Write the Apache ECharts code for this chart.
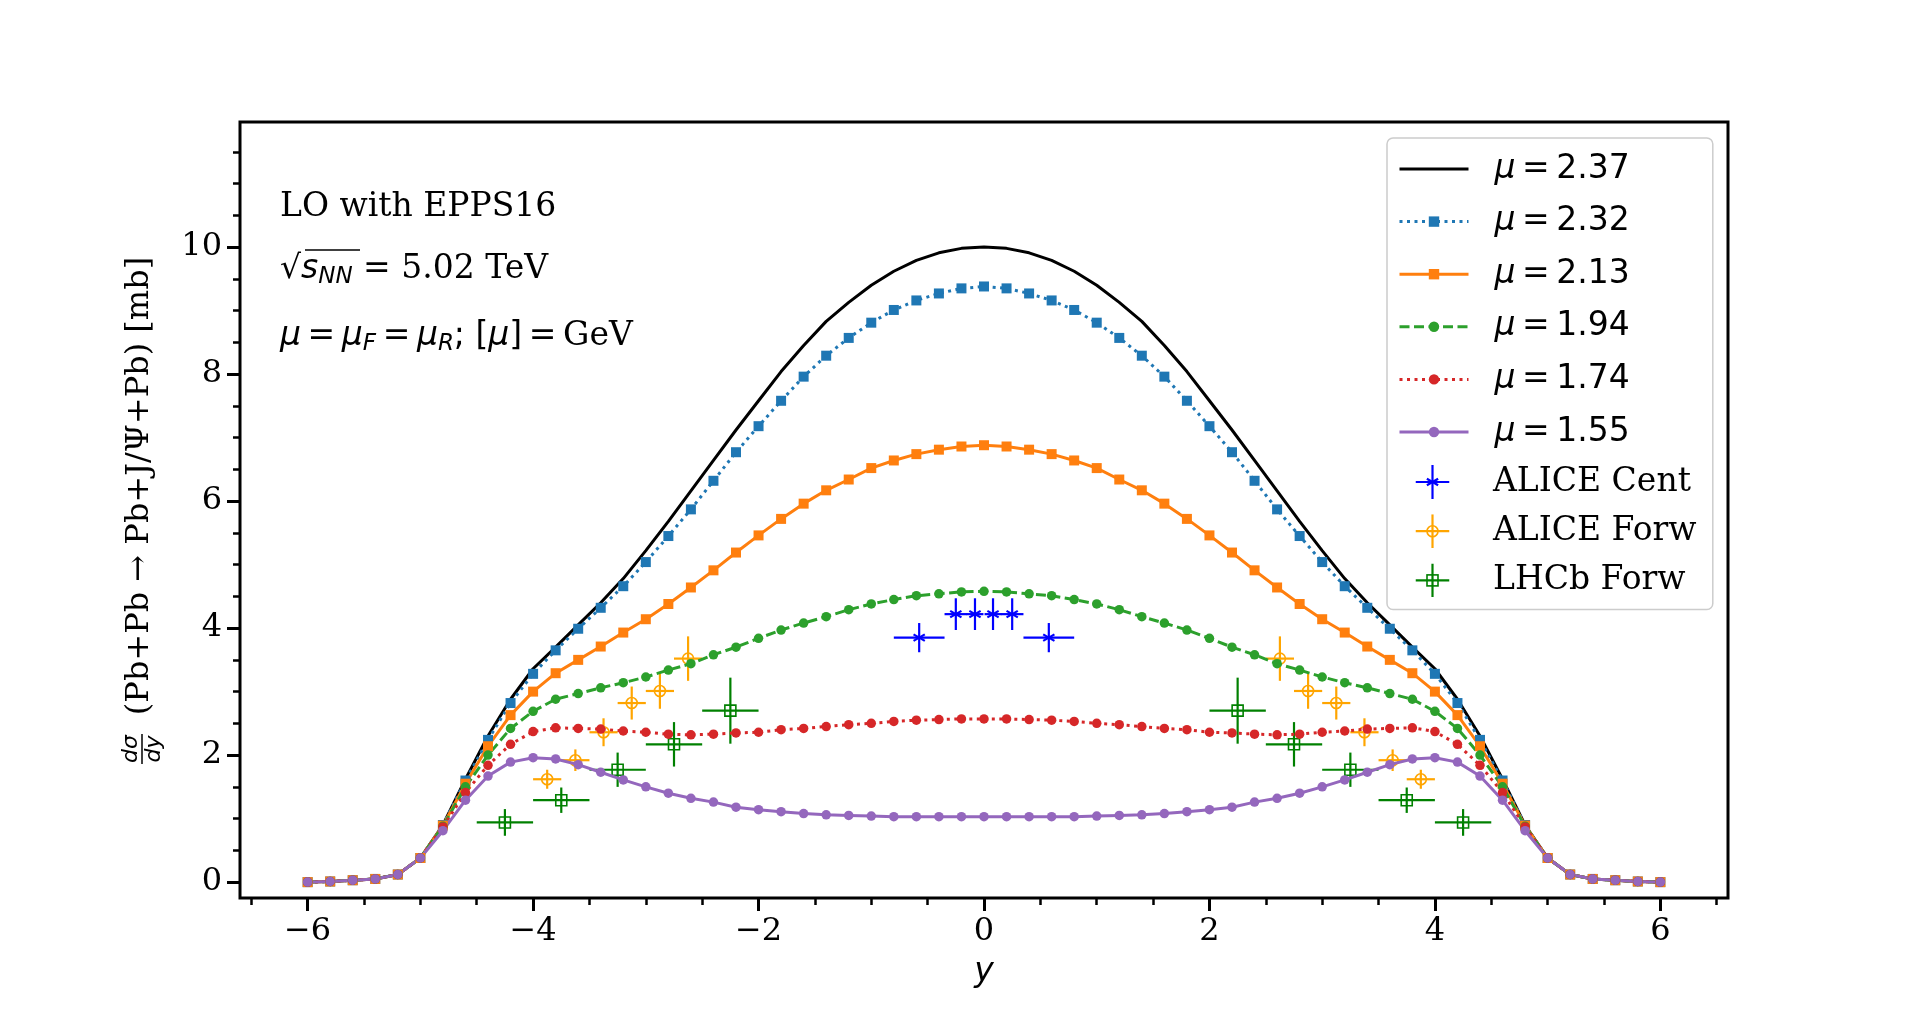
<!DOCTYPE html>
<html><head><meta charset="utf-8">
<script src="https://cdn.jsdelivr.net/npm/echarts@6/dist/echarts.min.js"></script>
<style>html,body{margin:0;padding:0;background:#fff}#c{width:1920px;height:1010px}</style>
</head><body><div id="c"></div>
<script>
// ---------- data ----------
const rapidity = [-6.0,-5.8,-5.6,-5.4,-5.2,-5.0,-4.8,-4.6,-4.4,-4.2,-4.0,-3.8,-3.6,-3.4,-3.2,-3.0,-2.8,-2.6,-2.4,-2.2,-2.0,-1.8,-1.6,-1.4,-1.2,-1.0,-0.8,-0.6,-0.4,-0.2,0.0,
  0.2,0.4,0.6,0.8,1.0,1.2,1.4,1.6,1.8,2.0,2.2,2.4,2.6,2.8,3.0,3.2,3.4,3.6,3.8,4.0,4.2,4.4,4.6,4.8,5.0,5.2,5.4,5.6,5.8,6.0];

const mu237 = [0.00,0.01,0.03,0.05,0.12,0.38,0.90,1.62,2.30,2.88,3.36,3.70,4.05,4.40,4.78,5.22,5.68,6.16,6.64,7.12,7.58,8.04,8.45,8.83,9.13,9.40,9.62,9.79,9.91,9.98,10.00,
  9.98,9.91,9.79,9.62,9.40,9.13,8.83,8.45,8.04,7.58,7.12,6.64,6.16,5.68,5.22,4.78,4.40,4.05,3.70,3.36,2.88,2.30,1.62,0.90,0.38,0.12,0.05,0.03,0.01,0.00];
const mu232 = [0.00,0.01,0.03,0.05,0.12,0.38,0.90,1.60,2.24,2.82,3.28,3.65,3.99,4.32,4.66,5.04,5.45,5.87,6.32,6.77,7.18,7.58,7.96,8.29,8.57,8.81,9.01,9.16,9.27,9.35,9.38,
  9.35,9.27,9.16,9.01,8.81,8.57,8.29,7.96,7.58,7.18,6.77,6.32,5.87,5.45,5.04,4.66,4.32,3.99,3.65,3.28,2.82,2.24,1.60,0.90,0.38,0.12,0.05,0.03,0.01,0.00];
const mu213 = [0.00,0.01,0.03,0.05,0.12,0.38,0.89,1.55,2.14,2.63,3.00,3.29,3.50,3.71,3.93,4.14,4.38,4.64,4.91,5.19,5.46,5.72,5.96,6.17,6.34,6.52,6.64,6.74,6.81,6.86,6.88,
  6.86,6.81,6.74,6.64,6.52,6.34,6.17,5.96,5.72,5.46,5.19,4.91,4.64,4.38,4.14,3.93,3.71,3.50,3.29,3.00,2.63,2.14,1.55,0.89,0.38,0.12,0.05,0.03,0.01,0.00];
const mu194 = [0.00,0.01,0.03,0.05,0.12,0.38,0.88,1.50,2.00,2.42,2.69,2.88,2.97,3.06,3.14,3.23,3.34,3.44,3.58,3.70,3.84,3.97,4.08,4.18,4.29,4.38,4.45,4.51,4.54,4.57,4.58,
  4.57,4.54,4.51,4.45,4.38,4.29,4.18,4.08,3.97,3.84,3.70,3.58,3.44,3.34,3.23,3.14,3.06,2.97,2.88,2.69,2.42,2.00,1.50,0.88,0.38,0.12,0.05,0.03,0.01,0.00];
const mu174 = [0.00,0.01,0.03,0.05,0.12,0.38,0.87,1.41,1.84,2.17,2.37,2.43,2.42,2.41,2.38,2.36,2.33,2.32,2.33,2.35,2.36,2.40,2.42,2.45,2.48,2.50,2.53,2.55,2.56,2.57,2.57,
  2.57,2.56,2.55,2.53,2.50,2.48,2.45,2.42,2.40,2.36,2.35,2.33,2.32,2.33,2.36,2.38,2.41,2.42,2.43,2.37,2.17,1.84,1.41,0.87,0.38,0.12,0.05,0.03,0.01,0.00];
const mu155 = [0.00,0.01,0.03,0.05,0.12,0.38,0.81,1.29,1.67,1.89,1.96,1.94,1.85,1.73,1.61,1.50,1.40,1.32,1.26,1.18,1.14,1.11,1.08,1.06,1.05,1.04,1.03,1.03,1.03,1.03,1.03,
  1.03,1.03,1.03,1.03,1.04,1.05,1.06,1.08,1.11,1.14,1.18,1.26,1.32,1.40,1.50,1.61,1.73,1.85,1.94,1.96,1.89,1.67,1.29,0.81,0.38,0.12,0.05,0.03,0.01,0.00];

const aliceCentY    = [-0.575,-0.25,-0.08,0.08,0.25,0.575];
const aliceCentVal  = [3.85,4.22,4.22,4.22,4.22,3.85];
const aliceCentYErr = [0.225,0.10,0.075,0.075,0.10,0.225];
const aliceCentErr  = [0.23,0.25,0.25,0.25,0.25,0.23];

const aliceForwY    = [-3.875,-3.625,-3.375,-3.125,-2.875,-2.625,2.625,2.875,3.125,3.375,3.625,3.875];
const aliceForwVal  = [1.62,1.92,2.36,2.82,3.01,3.52,3.52,3.01,2.82,2.36,1.92,1.62];
const aliceForwYErr = [0.125,0.125,0.125,0.125,0.125,0.125,0.125,0.125,0.125,0.125,0.125,0.125];
const aliceForwErr  = [0.15,0.17,0.22,0.26,0.28,0.35,0.35,0.28,0.26,0.22,0.17,0.15];

const lhcbY    = [-4.25,-3.75,-3.25,-2.75,-2.25,2.25,2.75,3.25,3.75,4.25];
const lhcbVal  = [0.94,1.29,1.77,2.17,2.70,2.70,2.17,1.77,1.29,0.94];
const lhcbYErr = [0.25,0.25,0.25,0.25,0.25,0.25,0.25,0.25,0.25,0.25];
const lhcbErr  = [0.21,0.20,0.27,0.35,0.52,0.52,0.35,0.27,0.20,0.21];

const xMajorTicks = [-6,-4,-2,0,2,4,6];
const xMinorTicks = [-6.5,-6,-5.5,-5,-4.5,-4,-3.5,-3,-2.5,-2,-1.5,-1,-0.5,0,0.5,1,1.5,2,2.5,3,3.5,4,4.5,5,5.5,6,6.5];
const yMajorTicks = [0,2,4,6,8,10];
const yMinorTicks = [0,0.5,1,1.5,2,2.5,3,3.5,4,4.5,5,5.5,6,6.5,7,7.5,8,8.5,9,9.5,10,10.5,11,11.5];

// ---------- helpers ----------
function lineSeries(name, vals, color, type, symbol, size) {
  return {
    type: 'line', name: name,
    data: rapidity.map((x, i) => [x, vals[i]]),
    symbol: symbol, symbolSize: size, showSymbol: symbol !== 'none',
    lineStyle: {color: color, width: 3, type: type},
    itemStyle: {color: color},
    emphasis: {disabled: true}, silent: true
  };
}
function errSeries(name, xs, vals, xerr, yerr, color, marker) {
  return {
    type: 'custom', name: name,
    data: xs.map((x, i) => [x, vals[i], xerr[i], yerr[i]]),
    encode: {x: 0, y: 1},
    itemStyle: {color: color},
    silent: true,
    renderItem: function (params, api) {
      const x = api.value(0), y = api.value(1), xe = api.value(2), ye = api.value(3);
      const c = api.coord([x, y]);
      const l = api.coord([x - xe, y]), r = api.coord([x + xe, y]);
      const t = api.coord([x, y + ye]), b = api.coord([x, y - ye]);
      const st = {stroke: color, lineWidth: 2.2, fill: null};
      const ch = [
        {type: 'line', shape: {x1: l[0], y1: c[1], x2: r[0], y2: c[1]}, style: st},
        {type: 'line', shape: {x1: c[0], y1: t[1], x2: c[0], y2: b[1]}, style: st}
      ];
      if (marker === 'asterisk') {
        const R = 6.5;
        for (const a of [30, -30]) {
          const dx = R * Math.cos(a * Math.PI / 180), dy = R * Math.sin(a * Math.PI / 180);
          ch.push({type: 'line', shape: {x1: c[0] - dx, y1: c[1] - dy, x2: c[0] + dx, y2: c[1] + dy}, style: st});
        }
      } else if (marker === 'circle') {
        ch.push({type: 'circle', shape: {cx: c[0], cy: c[1], r: 5.5}, style: {stroke: color, lineWidth: 1.6, fill: null}});
      } else {
        ch.push({type: 'rect', shape: {x: c[0] - 5.5, y: c[1] - 5.5, width: 11, height: 11}, style: {stroke: color, lineWidth: 1.6, fill: null}});
      }
      return {type: 'group', children: ch};
    }
  };
}
function svgIcon(color, marker) {
  let m = '';
  if (marker === 'asterisk') m = '<line x1="11.37" y1="13.75" x2="22.63" y2="20.25"/><line x1="11.37" y1="20.25" x2="22.63" y2="13.75"/>';
  else if (marker === 'circle') m = '<circle cx="17" cy="17" r="5.5" stroke-width="1.6"/>';
  else m = '<rect x="11.5" y="11.5" width="11" height="11" stroke-width="1.6"/>';
  const svg = '<svg xmlns="http://www.w3.org/2000/svg" width="34" height="34" viewBox="0 0 34 34"><g stroke="' + color +
    '" stroke-width="2.2" fill="none"><line x1="0" y1="17" x2="34" y2="17"/><line x1="17" y1="0" x2="17" y2="34"/>' + m + '</g></svg>';
  return 'image://data:image/svg+xml;charset=utf-8,' + encodeURIComponent(svg);
}
const fmtMinus = v => (v < 0 ? '\u2212' + (-v) : String(v));
const TS = '\u2009'; // thin space (math spacing)

const legendRich = {
  i: {fontFamily: 'DejaVu Sans', fontStyle: 'italic', fontSize: 33, color: '#000'},
  n: {fontFamily: 'DejaVu Sans', fontSize: 33, color: '#000'},
  s: {fontFamily: 'DejaVu Serif', fontSize: 33, color: '#000'}
};
const legendFmt = name => name.charAt(0) === '\u03bc'
  ? '{i|\u03bc}{n|' + TS + '=' + TS + name.split('= ')[1] + '}'
  : '{s|' + name + '}';

const axisLineOff = {show: false, onZero: false};

const chart = echarts.init(document.getElementById('c'));
chart.setOption({
  animation: false,
  textStyle: {fontFamily: 'DejaVu Serif'},
  grid: {left: 240, top: 122, width: 1488, height: 776, show: true, borderColor: '#000', borderWidth: 3, backgroundColor: 'transparent'},
  xAxis: [
    {type: 'value', min: -6.6, max: 6.6, position: 'bottom',
      axisLine: axisLineOff, splitLine: {show: false},
      axisTick: {show: true, length: 13, lineStyle: {width: 3, color: '#000'}, customValues: xMajorTicks},
      axisLabel: {customValues: xMajorTicks, formatter: fmtMinus, fontFamily: 'DejaVu Serif', fontSize: 32, color: '#000', margin: 18},
      name: 'y', nameLocation: 'middle', nameGap: 58,
      nameTextStyle: {fontFamily: 'DejaVu Sans', fontStyle: 'italic', fontSize: 33, color: '#000'}},
    {type: 'value', min: -6.6, max: 6.6, position: 'bottom',
      axisLine: axisLineOff, splitLine: {show: false}, axisLabel: {show: false},
      axisTick: {show: true, length: 7, lineStyle: {width: 2.5, color: '#000'}, customValues: xMinorTicks}}
  ],
  yAxis: [
    {type: 'value', min: -0.25, max: 11.97, position: 'left',
      axisLine: axisLineOff, splitLine: {show: false},
      axisTick: {show: true, length: 13, lineStyle: {width: 3, color: '#000'}, customValues: yMajorTicks},
      axisLabel: {customValues: yMajorTicks, fontFamily: 'DejaVu Serif', fontSize: 32, color: '#000', margin: 18},
      name: '{g| }{t|(Pb+Pb \u2192 Pb+J/\u03a8+Pb) [mb]}', nameLocation: 'middle', nameRotate: 90, nameGap: 84,
      nameTextStyle: {color: '#000', rich: {g: {width: 48}, t: {fontFamily: 'DejaVu Serif', fontSize: 32, color: '#000'}}}},
    {type: 'value', min: -0.25, max: 11.97, position: 'left',
      axisLine: axisLineOff, splitLine: {show: false}, axisLabel: {show: false},
      axisTick: {show: true, length: 7, lineStyle: {width: 2.5, color: '#000'}, customValues: yMinorTicks}}
  ],
  legend: [
    {orient: 'vertical', left: 1387, top: 138, padding: [14.5, 83, 161, 11],
      itemWidth: 69, itemHeight: 13, itemGap: 19.6, selectedMode: false,
      backgroundColor: 'rgba(255,255,255,0.8)', borderColor: '#cccccc', borderWidth: 1.5, borderRadius: 6,
      lineStyle: {width: 3},
      formatter: legendFmt, textStyle: {padding: [0, 0, 0, 21], rich: legendRich},
      data: [{name: '\u03bc = 2.37', itemStyle: {opacity: 0}}, '\u03bc = 2.32', '\u03bc = 2.13', '\u03bc = 1.94', '\u03bc = 1.74', '\u03bc = 1.55']},
    {orient: 'vertical', left: 1398, top: 465, padding: 0,
      itemWidth: 69, itemHeight: 34, itemGap: 15.2, selectedMode: false,
      formatter: legendFmt, textStyle: {padding: [0, 0, 0, 21], rich: legendRich},
      data: [{name: 'ALICE Cent', icon: svgIcon('#0000ff', 'asterisk')},
             {name: 'ALICE Forw', icon: svgIcon('#ffa500', 'circle')},
             {name: 'LHCb Forw', icon: svgIcon('#008000', 'square')}]}
  ],
  graphic: [
    {type: 'text', x: 280, y: 207, style: {text: 'LO with EPPS16', fontFamily: 'DejaVu Serif', fontSize: 33, fill: '#000', verticalAlign: 'middle'}},
    {type: 'text', x: 280, y: 269, style: {
      text: '{r|\u221a}{s|s}{sub|NN}{m| = }{t|5.02 TeV}', verticalAlign: 'middle',
      rich: {r: {fontFamily: 'DejaVu Sans', fontSize: 33, fill: '#000'},
             s: {fontFamily: 'DejaVu Sans', fontStyle: 'italic', fontSize: 33, fill: '#000'},
             sub: {fontFamily: 'DejaVu Sans', fontStyle: 'italic', fontSize: 23, fill: '#000', padding: [16, 0, 0, 0]},
             m: {fontFamily: 'DejaVu Sans', fontSize: 33, fill: '#000'},
             t: {fontFamily: 'DejaVu Serif', fontSize: 33, fill: '#000'}}}},
    {type: 'line', shape: {x1: 305, y1: 250, x2: 360, y2: 250}, style: {stroke: '#000', lineWidth: 1.6}},
    {type: 'text', x: 280, y: 336, style: {
      text: '{i|\u03bc}{m|' + TS + '=' + TS + '}{i|\u03bc}{sub|F}{m|' + TS + '=' + TS + '}{i|\u03bc}{sub|R}{m|; [}{i|\u03bc}{m|]' + TS + '=' + TS + '}{t|GeV}', verticalAlign: 'middle',
      rich: {i: {fontFamily: 'DejaVu Sans', fontStyle: 'italic', fontSize: 33, fill: '#000'},
             sub: {fontFamily: 'DejaVu Sans', fontStyle: 'italic', fontSize: 23, fill: '#000', padding: [16, 0, 0, 0]},
             m: {fontFamily: 'DejaVu Sans', fontSize: 33, fill: '#000'},
             t: {fontFamily: 'DejaVu Serif', fontSize: 33, fill: '#000'}}}},
    {type: 'group', x: 142, y: 749, rotation: Math.PI / 2, children: [
      {type: 'text', x: 0, y: -11, style: {text: 'd\u03c3', fontFamily: 'DejaVu Sans', fontStyle: 'italic', fontSize: 22, fill: '#000', align: 'center', verticalAlign: 'middle'}},
      {type: 'line', shape: {x1: -15, y1: 0, x2: 15, y2: 0}, style: {stroke: '#000', lineWidth: 1.5}},
      {type: 'text', x: 0, y: 12, style: {text: 'dy', fontFamily: 'DejaVu Sans', fontStyle: 'italic', fontSize: 22, fill: '#000', align: 'center', verticalAlign: 'middle'}}
    ]}
  ],
  series: [
    lineSeries('\u03bc = 2.37', mu237, '#000000', 'solid', 'none', 0),
    lineSeries('\u03bc = 2.32', mu232, '#1f77b4', [3, 4.5], 'rect', 10),
    lineSeries('\u03bc = 2.13', mu213, '#ff7f0e', 'solid', 'rect', 10),
    lineSeries('\u03bc = 1.94', mu194, '#2ca02c', [10, 4.5], 'circle', 9.5),
    lineSeries('\u03bc = 1.74', mu174, '#d62728', [3, 4.5], 'circle', 9.5),
    lineSeries('\u03bc = 1.55', mu155, '#9467bd', 'solid', 'circle', 9.5),
    errSeries('ALICE Cent', aliceCentY, aliceCentVal, aliceCentYErr, aliceCentErr, '#0000ff', 'asterisk'),
    errSeries('ALICE Forw', aliceForwY, aliceForwVal, aliceForwYErr, aliceForwErr, '#ffa500', 'circle'),
    errSeries('LHCb Forw', lhcbY, lhcbVal, lhcbYErr, lhcbErr, '#008000', 'square')
  ]
});
</script></body></html>
